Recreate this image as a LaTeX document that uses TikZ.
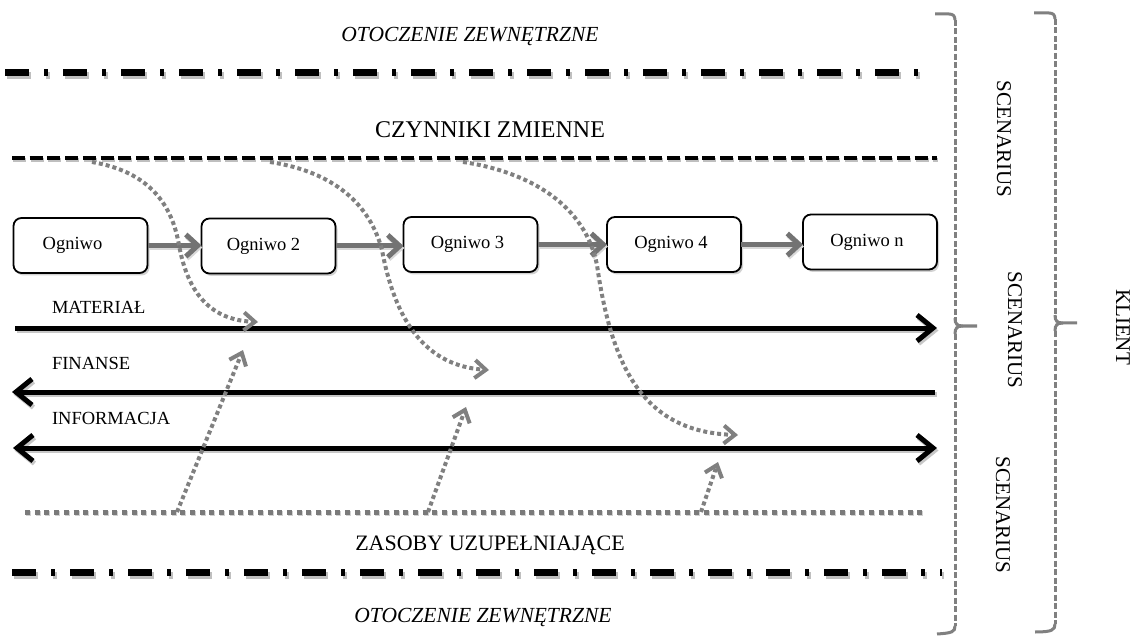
\documentclass[tikz,border=0pt]{standalone}
\usepackage{fontspec}
\setmainfont{Liberation Serif}
\usetikzlibrary{arrows.meta,shadows}
\begin{document}
\begin{tikzpicture}[x=1pt,y=-1pt,
  every node/.style={inner sep=0pt, outer sep=0pt},
  otext/.style={font=\fontsize{21.5}{24}\selectfont\itshape},
  ctext/.style={font=\fontsize{24}{27}\selectfont},
  ztext/.style={font=\fontsize{22}{25}\selectfont},
  ltext/.style={font=\fontsize{18.5}{21}\selectfont, anchor=west},
  stext/.style={font=\fontsize{21}{24}\selectfont, rotate=-90},
  box/.style={draw, line width=1.8pt, rounded corners=8pt, fill=white,
    minimum width=134pt, minimum height=55pt, font=\fontsize{18.5}{21}\selectfont,
    drop shadow={shadow xshift=2pt, shadow yshift=-2.5pt, fill=black!35}},
  dashdotline/.style={line width=7pt, dash pattern=on 24pt off 15pt on 4pt off 15pt,
    preaction={draw=black!25, line width=7pt, dash pattern=on 24pt off 15pt on 4pt off 15pt,
      transform canvas={shift={(1.5pt,-3pt)}}}},
  dashline/.style={line width=4pt, dash pattern=on 13pt off 4.7pt,
    preaction={draw=black!25, line width=4pt, dash pattern=on 13pt off 4.7pt,
      transform canvas={shift={(1pt,-2pt)}}}},
  dotline/.style={draw=black!52, line width=5pt, dash pattern=on 5pt off 4.7pt,
    preaction={draw=black!18, line width=5pt, dash pattern=on 5pt off 4.7pt,
      transform canvas={shift={(1pt,-1.5pt)}}}},
  fwd/.style={-{Straight Barb[length=16pt,width=26pt]}},
  both/.style={{Straight Barb[length=16pt,width=26pt]}-{Straight Barb[length=16pt,width=26pt]}},
  flow/.style={line width=5pt, #1,
    preaction={draw=black!22, line width=5pt, #1, transform canvas={shift={(1.5pt,-2.5pt)}}}},
  chain/.style={draw=black!55, line width=5pt, -{Straight Barb[length=12pt,width=22pt]},
    preaction={draw=black!15, line width=5pt, -{Straight Barb[length=12pt,width=22pt]},
      transform canvas={shift={(1pt,-2pt)}}}},
  influence/.style={draw=black!50, line width=4pt, dash pattern=on 4pt off 3pt,
    -{Straight Barb[length=11pt,width=18pt]}},
  brk/.style={draw=black!50, line width=3pt, dash pattern=on 6pt off 2.5pt},
  brktip/.style={draw=black!50, line width=3pt},
]
\useasboundingbox (0,0) rectangle (1136,639);

% texts
\node[otext] (ot1) at (470,36) {OTOCZENIE ZEWNĘTRZNE};
\node[ctext] (cz) at (490,130) {CZYNNIKI ZMIENNE};
\node[ztext] (zas) at (490,545) {ZASOBY UZUPEŁNIAJĄCE};
\node[otext] (ot2) at (483,617) {OTOCZENIE ZEWNĘTRZNE};

% horizontal boundary lines
\coordinate (ddT1) at (5,73);   \coordinate (ddT2) at (932,73);
\coordinate (dsh1) at (12,158); \coordinate (dsh2) at (937,158);
\coordinate (dot1) at (25,512); \coordinate (dot2) at (925,512);
\coordinate (ddB1) at (12,572); \coordinate (ddB2) at (942,572);
\draw[dashdotline] (ddT1) -- (ddT2);
\draw[dashline] (dsh1) -- (dsh2);
\draw[dotline] (dot1) -- (dot2);
\draw[dashdotline] (ddB1) -- (ddB2);

% chain of boxes
\node[box] (b1) at (80.5,245.5) {\hspace*{-16pt}Ogniwo};
\node[box] (b2) at (268.5,246) {\hspace*{-10pt}Ogniwo 2};
\node[box] (b3) at (470.5,244.5) {\hspace*{-6pt}Ogniwo 3};
\node[box] (b4) at (674,244.5) {\hspace*{-6pt}Ogniwo 4};
\node[box] (bn) at (870,242) {\hspace*{-6pt}Ogniwo n};
\draw[chain] (b1.east) -- (b1.east -| b2.west);
\draw[chain] (b2.east) -- (b2.east -| b3.west);
\draw[chain] (b3.east) -- (b3.east -| b4.west);
\draw[chain] (b4.east) -- (b4.east -| bn.west);

% flows
\node[ltext] (lm) at (52,307) {MATERIAŁ};
\node[ltext] (lf) at (52,363) {FINANSE};
\node[ltext] (li) at (52,418) {INFORMACJA};
\coordinate (m1) at (15,328);  \coordinate (m2) at (937,328);
\coordinate (f1) at (935,392); \coordinate (f2) at (12,392);
\coordinate (i1) at (13,448);  \coordinate (i2) at (937,448);
\draw[flow=fwd] (m1) -- (m2);
\draw[flow=fwd] (f1) -- (f2);
\draw[flow=both] (i1) -- (i2);

% influences of variable factors (curved)
\coordinate (c1s) at (92,162);  \coordinate (c1e) at (258,322);
\coordinate (c2s) at (270,162); \coordinate (c2e) at (489,370);
\coordinate (c3s) at (463,162); \coordinate (c3e) at (738,435);
\draw[influence] (c1s) .. controls (150,172) and (172,205) .. (179,245)
                       .. controls (188,295) and (212,320) .. (c1e);
\draw[influence] (c2s) .. controls (335,172) and (370,205) .. (382,250)
                       .. controls (395,320) and (425,366) .. (c2e);
\draw[influence] (c3s) .. controls (530,172) and (585,205) .. (597,265)
                       .. controls (612,370) and (645,432) .. (c3e);

% complementary resources (upward)
\coordinate (u1s) at (177,512); \coordinate (u1e) at (243,350);
\coordinate (u2s) at (428,512); \coordinate (u2e) at (466,407);
\coordinate (u3s) at (701,512); \coordinate (u3e) at (718,462);
\draw[influence] (u1s) -- (u1e);
\draw[influence] (u2s) -- (u2e);
\draw[influence] (u3s) -- (u3e);

% brackets
\coordinate (k1t) at (935,14);  \coordinate (k1b) at (937,634); \coordinate (k1m) at (977,326);
\coordinate (k2t) at (1034,13); \coordinate (k2b) at (1035,632); \coordinate (k2m) at (1077,323);
\draw[brktip] (k1t) -- (949,14) .. controls (953,14) and (955,16) .. (955,20);
\draw[brk] (955,20) -- (955,320);
\draw[brktip] (955,318) .. controls (955,324) and (957,326) .. (963,326) -- (k1m);
\draw[brktip] (963,326) .. controls (957,326) and (955,328) .. (955,334);
\draw[brk] (955,334) -- (955,626);
\draw[brktip] (955,626) .. controls (955,632) and (952,633) .. (k1b);
\draw[brktip] (k2t) -- (1049,13) .. controls (1053,13) and (1055,15) .. (1055,19);
\draw[brk] (1055,19) -- (1055,317);
\draw[brktip] (1055,315) .. controls (1055,321) and (1057,323) .. (1063,323) -- (k2m);
\draw[brktip] (1063,323) .. controls (1057,323) and (1055,325) .. (1055,331);
\draw[brk] (1055,331) -- (1055,624);
\draw[brktip] (1055,624) .. controls (1055,630) and (1052,632) .. (k2b);

\node[stext] (s1) at (1004,139) {SCENARIUS};
\node[stext] (s2) at (1015,330) {SCENARIUS};
\node[stext] (s3) at (1003,515) {SCENARIUS};
\node[stext] (kl) at (1123,327) {KLIENT};
\end{tikzpicture}
\end{document}
